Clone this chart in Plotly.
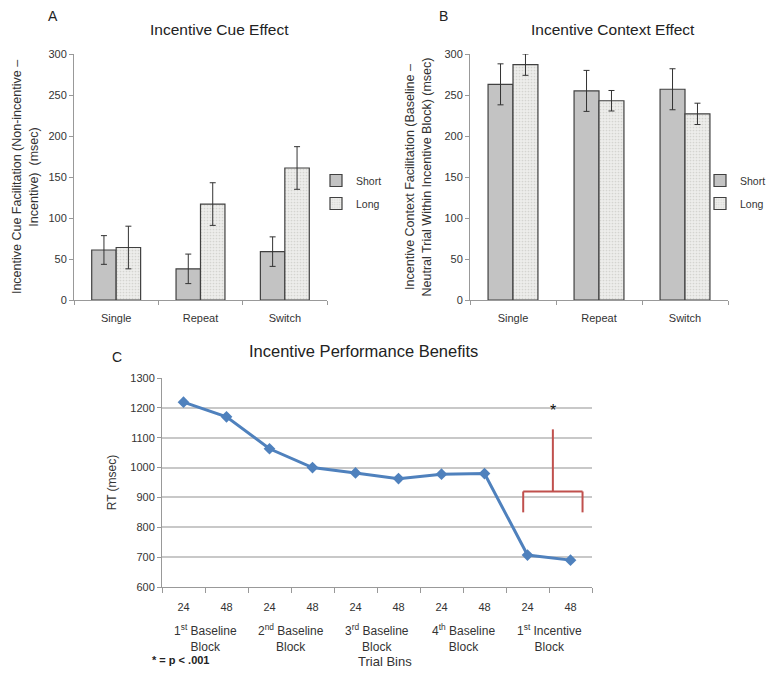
import plotly.graph_objects as go

W, H = 778, 673
PAGE_OFFSET = 8  # browser default body margin

# ---------------- data ----------------
conditions = ["Single", "Repeat", "Switch"]
series_names = ["Short", "Long"]

cue_short = [61, 38, 59]
cue_short_err = [17.5, 18, 18]
cue_long = [64, 117, 161]
cue_long_err = [26, 26, 26]

ctx_short = [263, 255, 257]
ctx_short_err = [25, 25, 25]
ctx_long = [287, 243, 227]
ctx_long_err = [13, 12.5, 13]

bins = ["24", "48"] * 5
block_labels = ["1<sup>st</sup> Baseline<br>Block", "2<sup>nd</sup> Baseline<br>Block",
                "3<sup>rd</sup> Baseline<br>Block", "4<sup>th</sup> Baseline<br>Block",
                "1<sup>st</sup> Incentive<br>Block"]
rt_values = [1219, 1170, 1063, 1000, 982, 963, 978, 980, 707, 690]
categories = [f"{b} {i}" for i in range(5) for b in ("24", "48")]

# significance bracket (data coords)
bracket_left, bracket_right, bracket_mid = 7.9, 9.28, 8.59
bracket_y, bracket_leg_y, bracket_top = 920, 850, 1128
star_y = 1192

FONT = "Liberation Sans, Arial, sans-serif"
SHORT_FILL = "#c3c3c3"
LONG_FILL = "#ededeb"
EDGE = "#404040"
BLUE = "#4f81bd"
RED = "#c0504d"

fig = go.Figure()

def px_x(p):
    return (p - PAGE_OFFSET) / W

def px_y(p):
    return 1 - (p - PAGE_OFFSET) / H

def add_bars(xa, ya, short, short_err, long, long_err, legend):
    fig.add_trace(go.Bar(
        x=conditions, y=short, name=series_names[0], xaxis=xa, yaxis=ya, legend=legend,
        legendgroup="short",
        marker=dict(color=SHORT_FILL, line=dict(color=EDGE, width=1.2)),
        error_y=dict(type="data", array=short_err, color="#333333", thickness=1, width=3),
        offsetgroup="s"))
    fig.add_trace(go.Bar(
        x=conditions, y=long, name=series_names[1], xaxis=xa, yaxis=ya, legend=legend,
        legendgroup="long",
        marker=dict(color=LONG_FILL, line=dict(color=EDGE, width=1.2),
                    pattern=dict(shape=".", fgcolor="#d4d4d0", bgcolor=LONG_FILL,
                                 size=3, solidity=0.25)),
        error_y=dict(type="data", array=long_err, color="#333333", thickness=1, width=3),
        offsetgroup="l"))

add_bars("x", "y", cue_short, cue_short_err, cue_long, cue_long_err, "legend")
add_bars("x2", "y2", ctx_short, ctx_short_err, ctx_long, ctx_long_err, "legend2")

fig.add_trace(go.Scatter(
    x=categories, y=rt_values, mode="lines+markers", xaxis="x3", yaxis="y3",
    line=dict(color=BLUE, width=3), marker=dict(symbol="diamond", size=9, color=BLUE),
    showlegend=False))

axis_font = dict(family=FONT, size=11, color="#333333")
bar_x = dict(type="category", showline=True, linecolor="#999999", linewidth=1,
             ticks="outside", tickson="boundaries", ticklen=4, tickcolor="#999999",
             tickfont=axis_font, showgrid=False, zeroline=False, automargin=False,
             ticklabelstandoff=8)
bar_y = dict(range=[0, 300], dtick=50, showline=True, linecolor="#999999", linewidth=1,
             ticks="outside", ticklen=4, tickcolor="#999999", tickfont=axis_font,
             showgrid=False, zeroline=False, automargin=False)

legend_common = dict(xanchor="left", yanchor="top",
                     font=dict(family=FONT, size=10.5, color="#333333"), tracegroupgap=4,
                     itemwidth=30, bgcolor="rgba(0,0,0,0)")

fig.update_layout(
    template="none",
    width=W, height=H, margin=dict(l=0, r=0, t=0, b=0, autoexpand=False),
    paper_bgcolor="white", plot_bgcolor="white",
    font=dict(family=FONT, color="#333333"),
    barmode="group", bargap=0.42, bargroupgap=0,
    xaxis=dict(bar_x, domain=[px_x(74), px_x(327)], anchor="y"),
    yaxis=dict(bar_y, domain=[px_y(300), px_y(54)], anchor="x",
               title=dict(text="Incentive Cue Facilitation (Non-incentive –<br>Incentive)  (msec)",
                          font=dict(family=FONT, size=12.5, color="#333333"), standoff=7)),
    xaxis2=dict(bar_x, domain=[px_x(470), px_x(728)], anchor="y2"),
    yaxis2=dict(bar_y, domain=[px_y(300), px_y(54)], anchor="x2",
                title=dict(text="Incentive Context Facilitation (Baseline –<br>Neutral Trial Within Incentive Block) (msec)",
                           font=dict(family=FONT, size=12.5, color="#333333"), standoff=10)),
    xaxis3=dict(type="category", domain=[px_x(162), px_x(592)], anchor="y3",
                showline=True, linecolor="#999999", linewidth=1, ticks="outside",
                tickson="boundaries", ticklen=5, tickcolor="#999999",
                tickvals=categories, ticktext=bins, tickfont=axis_font,
                showgrid=False, zeroline=False, ticklabelstandoff=10, automargin=False,
                range=[-0.5, 9.5]),
    yaxis3=dict(range=[600, 1300], dtick=100, domain=[px_y(587), px_y(378)], anchor="x3",
                showline=True, linecolor="#999999", linewidth=1, ticks="outside", ticklen=4,
                tickcolor="#999999", tickfont=axis_font, showgrid=True, automargin=False,
                gridcolor="#c8c8c8", gridwidth=1.5, zeroline=False,
                title=dict(text="RT (msec)", font=dict(family=FONT, size=12, color="#333333"),
                           standoff=11)),
    legend=dict(legend_common, x=px_x(316), y=px_y(166)),
    legend2=dict(legend_common, x=px_x(700), y=px_y(166)),
)

def note(text, x, y, size, xref="paper", xanchor="center", color="#222222"):
    return dict(text=text, x=x, y=y, xref=xref, yref="paper", showarrow=False,
                xanchor=xanchor, yanchor="middle",
                font=dict(family=FONT, size=size, color=color))

annotations = [
    note("A", px_x(46), px_y(16), 14, xanchor="left"),
    note("Incentive Cue Effect", px_x(219), px_y(29), 15.5),
    note("B", px_x(437), px_y(16), 14, xanchor="left"),
    note("Incentive Context Effect", px_x(613), px_y(29), 15.5),
    note("C", px_x(110), px_y(357), 14, xanchor="left"),
    note("Incentive Performance Benefits", px_x(363), px_y(351), 16.5),
    note("Trial Bins", px_x(385), px_y(661), 13, color="#333333"),
    note("<b>* = p < .001</b>", px_x(150), px_y(660), 11, xanchor="left"),
    dict(text="*", x=bracket_mid, y=star_y, xref="x3", yref="y3", showarrow=False,
         xanchor="center", yanchor="middle", font=dict(family=FONT, size=16, color="#111111")),
]
for i, lab in enumerate(block_labels):
    annotations.append(note(lab, 2 * i + 0.5, px_y(638), 12, xref="x3", color="#333333"))
fig.update_layout(annotations=annotations)

shape_line = dict(color=RED, width=2)
fig.add_shape(type="line", xref="x3", yref="y3", x0=bracket_left, x1=bracket_right,
              y0=bracket_y, y1=bracket_y, line=shape_line)
fig.add_shape(type="line", xref="x3", yref="y3", x0=bracket_left, x1=bracket_left,
              y0=bracket_y, y1=bracket_leg_y, line=shape_line)
fig.add_shape(type="line", xref="x3", yref="y3", x0=bracket_right, x1=bracket_right,
              y0=bracket_y, y1=bracket_leg_y, line=shape_line)
fig.add_shape(type="line", xref="x3", yref="y3", x0=bracket_mid, x1=bracket_mid,
              y0=bracket_y, y1=bracket_top, line=shape_line)

fig.write_html("out.html")
